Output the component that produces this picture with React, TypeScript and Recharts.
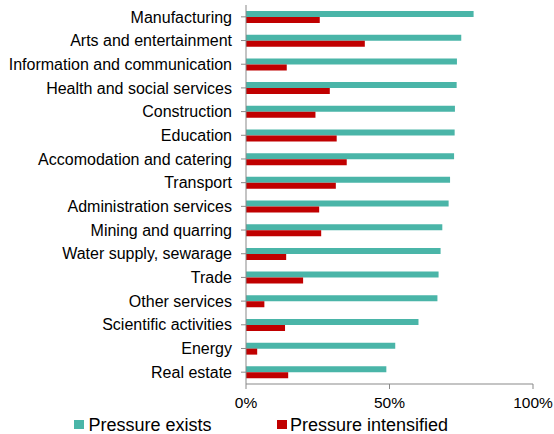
import React from "react";
import { BarChart, Bar, XAxis, YAxis, Legend } from "recharts";

const sectors = [
  "Manufacturing",
  "Arts and entertainment",
  "Information and communication",
  "Health and social services",
  "Construction",
  "Education",
  "Accomodation and catering",
  "Transport",
  "Administration services",
  "Mining and quarring",
  "Water supply, sewarage",
  "Trade",
  "Other services",
  "Scientific activities",
  "Energy",
  "Real estate",
];

const pressureExists = [79.3, 75.0, 73.5, 73.4, 72.8, 72.7, 72.5, 71.1, 70.6, 68.4, 67.8, 67.1, 66.7, 60.1, 52.0, 48.9];
const pressureIntensified = [25.7, 41.4, 14.2, 29.2, 24.2, 31.6, 35.1, 31.3, 25.5, 26.2, 14.0, 19.9, 6.4, 13.6, 3.9, 14.7];

const xTicks = [0, 50, 100];

const seriesNames = ["Pressure exists", "Pressure intensified"];
const TEAL = "#4AB5A8";
const RED = "#C00000";
const FONT = "'Liberation Sans', Arial, sans-serif";

const data = sectors.map((name, i) => ({
  name,
  exists: pressureExists[i],
  intensified: pressureIntensified[i],
}));

const LegendContent = () => {
  const items = [
    { label: seriesNames[0], color: TEAL, boxLeft: 74, textLeft: 88.5 },
    { label: seriesNames[1], color: RED, boxLeft: 277, textLeft: 290 },
  ];
  return (
    <div style={{ position: "relative", width: 554, height: 22 }}>
      {items.map((it) => (
        <React.Fragment key={it.label}>
          <span
            style={{
              position: "absolute",
              left: it.boxLeft,
              top: 7.7,
              width: 10,
              height: 9,
              background: it.color,
            }}
          />
          <span
            style={{
              position: "absolute",
              left: it.textLeft,
              top: 3.75,
              fontFamily: FONT,
              fontSize: 18,
              lineHeight: "18px",
              color: "#000",
              whiteSpace: "nowrap",
            }}
          >
            {it.label}
          </span>
        </React.Fragment>
      ))}
    </div>
  );
};

export default function App() {
  return (
    <div style={{ position: "absolute", left: 0, top: 0, width: 554, height: 434, background: "#fff" }}>
      <BarChart
        width={554}
        height={434}
        data={data}
        layout="vertical"
        margin={{ top: 5, right: 21, bottom: 0, left: 0 }}
        barGap={0}
        barSize={6}
      >
        <XAxis
          type="number"
          domain={[0, 100]}
          ticks={xTicks}
          tickFormatter={(v: number) => `${v}%`}
          axisLine={{ stroke: "#898989" }}
          tickLine={{ stroke: "#898989" }}
          tickSize={5}
          tickMargin={8}
          height={28}
          tick={{ fill: "#000", fontSize: 15.5, fontFamily: FONT }}
          interval={0}
        />
        <YAxis
          type="category"
          dataKey="name"
          width={246}
          axisLine={{ stroke: "#898989" }}
          tickLine={{ stroke: "#898989" }}
          tickSize={5}
          tickMargin={9}
          interval={0}
          tick={{ fill: "#000", fontSize: 16, fontFamily: FONT }}
        />
        <Legend
          verticalAlign="bottom"
          height={22}
          content={() => <LegendContent />}
          wrapperStyle={{ left: 0, width: 554 }}
        />
        <Bar dataKey="exists" name={seriesNames[0]} fill={TEAL} isAnimationActive={false} />
        <Bar dataKey="intensified" name={seriesNames[1]} fill={RED} isAnimationActive={false} />
      </BarChart>
    </div>
  );
}
